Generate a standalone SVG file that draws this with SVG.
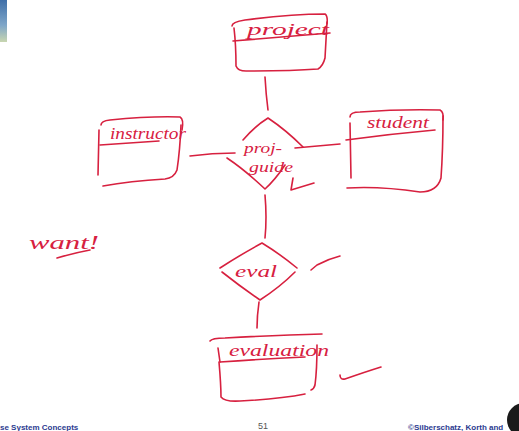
<svg xmlns="http://www.w3.org/2000/svg" width="519" height="431" viewBox="0 0 519 431">
  <defs>
    <linearGradient id="thumb" x1="0" y1="0" x2="0" y2="1">
      <stop offset="0" stop-color="#3f6fa8"/>
      <stop offset="0.6" stop-color="#7fa6c8"/>
      <stop offset="1" stop-color="#c8d6b0"/>
    </linearGradient>
  </defs>
  <style>
    .ink { fill: none; stroke: #d7203f; stroke-width: 1.6; stroke-linecap: round; stroke-linejoin: round; }
    .hand { font-family: "Liberation Serif", serif; font-style: italic; fill: #d7203f; }
    .foot { font-family: "Liberation Sans", Arial, sans-serif; font-weight: bold; font-size: 8px; fill: #2b3a8f; }
  </style>
  <rect width="519" height="431" fill="#ffffff"/>
  <rect x="0" y="0" width="7" height="42" fill="url(#thumb)"/>

  <!-- connectors -->
  <g id="connectors">
    <path class="ink" d="M265 77 Q266 95 268 110"/>
    <path class="ink" d="M190 156 Q212 153 235 153"/>
    <path class="ink" d="M295 148 Q318 146 340 144"/>
    <path class="ink" d="M265 195 Q267 218 265 238"/>
    <path class="ink" d="M259 302 Q257 316 257 328"/>
  </g>

  <g id="project">
    <path class="ink" d="M232 26 Q232 22 245 20 Q290 14 325 14 Q328 16 327 24"/>
    <path class="ink" d="M234 28 Q236 45 236 66 Q238 71 246 71 Q290 71 318 69 Q323 66 325 58 Q326 40 327 22"/>
    <path class="ink" d="M233 41 Q280 37 330 33"/>
    <text class="hand" x="247" y="35" font-size="16" textLength="82" lengthAdjust="spacingAndGlyphs">project</text>
  </g>

  <g id="instructor">
    <path class="ink" d="M101 125 Q101 121 110 120 Q150 116 180 117 Q184 119 182 130"/>
    <path class="ink" d="M99 130 L98 175"/>
    <path class="ink" d="M181 125 Q180 150 177 170 Q174 178 165 179 Q130 181 103 186"/>
    <path class="ink" d="M100 145 Q130 143 159 141"/>
    <text class="hand" x="110" y="139" font-size="16" textLength="76" lengthAdjust="spacingAndGlyphs">instructor</text>
  </g>

  <g id="proj-guide">
    <path class="ink" d="M243 140 Q255 126 268 118 Q286 130 303 147"/>
    <path class="ink" d="M227 158 Q245 170 265 189 Q275 180 285 165"/>
    <text class="hand" x="244" y="153" font-size="15" textLength="38" lengthAdjust="spacingAndGlyphs">proj-</text>
    <text class="hand" x="249" y="172" font-size="15" textLength="44" lengthAdjust="spacingAndGlyphs">guide</text>
    <path class="ink" d="M293 178 L291 190 L314 183"/>
  </g>

  <g id="student">
    <path class="ink" d="M350 117 Q350 112 360 112 Q400 109 440 110 Q444 112 443 120"/>
    <path class="ink" d="M350 123 L351 178"/>
    <path class="ink" d="M443 116 Q443 150 441 178 Q437 192 420 192 Q380 186 347 188"/>
    <path class="ink" d="M346 140 Q390 134 435 130"/>
    <text class="hand" x="367" y="128" font-size="16" textLength="62" lengthAdjust="spacingAndGlyphs">student</text>
  </g>

  <g id="eval">
    <path class="ink" d="M220 268 Q240 255 262 243 Q280 254 297 268"/>
    <path class="ink" d="M222 272 Q241 287 260 300 Q280 287 295 272"/>
    <text class="hand" x="235" y="277" font-size="16" textLength="42" lengthAdjust="spacingAndGlyphs">eval</text>
    <path class="ink" d="M311 270 L317 265 Q328 259 340 256"/>
  </g>

  <g id="evaluation">
    <path class="ink" d="M210 341 Q212 338 225 338 Q280 335 322 334"/>
    <path class="ink" d="M218 348 L220 362"/>
    <path class="ink" d="M220 362 Q262 359 305 357"/>
    <path class="ink" d="M219 362 Q221 385 221 397 Q225 402 240 401 Q280 399 305 394"/>
    <path class="ink" d="M317 345 Q317 370 315 385 Q314 389 311 390"/>
    <text class="hand" x="229" y="356" font-size="16" textLength="100" lengthAdjust="spacingAndGlyphs">evaluation</text>
    <path class="ink" d="M340 375 Q340 380 345 379 Q365 372 381 367"/>
  </g>

  <g id="want">
    <text class="hand" x="29" y="249" font-size="18" textLength="70" lengthAdjust="spacingAndGlyphs">want!</text>
    <path class="ink" d="M57 258 Q74 253 90 250"/>
  </g>

  <g id="footer">
    <text class="foot" x="0" y="430">se System Concepts</text>
    <text x="258" y="429" font-family="Liberation Sans, Arial, sans-serif" font-size="9" fill="#555">51</text>
    <text class="foot" x="408" y="430">©Silberschatz, Korth and</text>
    <circle cx="524" cy="420" r="17" fill="#1a1a1a"/>
  </g>
</svg>
